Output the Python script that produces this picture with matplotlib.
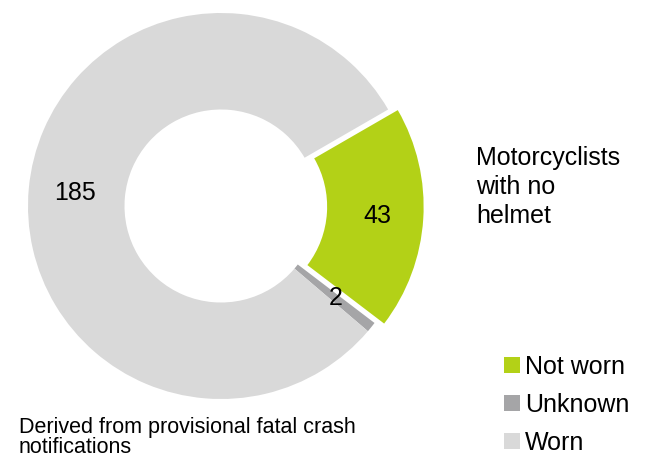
import matplotlib
matplotlib.use("Agg")
import matplotlib.pyplot as plt

categories = ["Not worn", "Unknown", "Worn"]
values = [43, 2, 185]
colors = ["#b3d117", "#a5a5a7", "#d9d9d9"]
explode = [0.05, 0, 0]
title_lines = ["Motorcyclists", "with no", "helmet"]
footnote_lines = ["Derived from provisional fatal crash", "notifications"]

plt.rcParams['font.family'] = ['Liberation Sans', 'DejaVu Sans']

W, H = 648, 458
fig = plt.figure(figsize=(W / 100, H / 100), dpi=100)

# pie axes: centre (220, 206) px from top-left, radius 193 px
cx, cy, R = 221, 206, 193
lim = 1.2
size = 2 * lim * R
ax = fig.add_axes([(cx - size / 2) / W, (H - cy - size / 2) / H, size / W, size / H])

total = sum(values)
wedges, texts, autotexts = ax.pie(
    values, colors=colors, explode=explode, startangle=30, counterclock=False,
    radius=1, wedgeprops=dict(width=0.5, linewidth=0),
    autopct=lambda p: f"{round(p * total / 100)}", pctdistance=0.76,
    textprops=dict(fontsize=18, color="black"))
ax.set_xlim(-lim, lim)
ax.set_ylim(-lim, lim)
ax.set_aspect('equal')

for i, line in enumerate(title_lines):
    fig.text(476 / W, 1 - (165 + 29 * i) / H, line, fontsize=18, va='baseline', ha='left')

for i, line in enumerate(footnote_lines):
    fig.text(19 / W, 1 - (433 + 20 * i) / H, line, fontsize=15.5, va='baseline', ha='left')

fig.legend(wedges, categories, loc='upper left', bbox_to_anchor=(504 / W, 1 - 355 / H),
           frameon=False, fontsize=18, handlelength=0.64, handleheight=0.64,
           handletextpad=0.2, labelspacing=0.56, borderpad=0, borderaxespad=0)

fig.savefig("out.png", dpi=100)
